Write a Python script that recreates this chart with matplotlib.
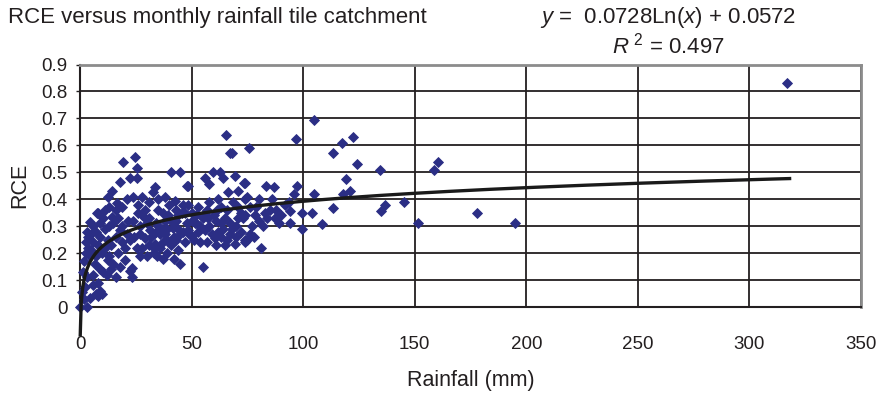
import matplotlib
matplotlib.use("Agg")
import matplotlib.pyplot as plt
import numpy as np

# ---- data ----
rain = [
    317, 195, 178, 160.5, 158.7, 151.6, 145, 136.8, 135, 134.6, 124, 122.5, 121, 119, 118,
    117.5, 113.6, 113.6, 108.6, 105, 105, 97, 97.3, 96,
    93.7, 88, 94, 99.5, 104, 94, 99.5, 83, 84, 87.5, 78.5, 77, 74, 75, 74, 81, 79, 75.8,
    74.8, 80, 83.4, 87, 74,
    76, 78, 82, 85, 90, 92, 86, 80, 76, 89,
    65.5, 67, 68, 48.5, 56, 59.6, 62.8, 58, 64, 69.5, 73.5, 66.4, 70.8, 68.6, 74, 61.4,
    65, 71, 48.4, 53, 57.4, 51.6, 56, 60.5, 65, 69.5, 74, 55, 50, 48.4,
    52, 54, 58, 62, 63, 67, 70, 72, 60, 66, 71, 62, 58, 55, 51, 57, 63, 68, 73, 50,
    24.7, 25.5, 25.5, 40.8, 45, 33.6, 32.7, 35, 42.6, 48, 28, 23.8, 29, 37, 39.5, 45.7,
    23.8, 27, 31.4, 36.8, 41.7, 48, 29, 33.6, 39, 44, 25.5, 30, 34.5, 39, 45, 23.3, 23.3, 22.4,
    26, 31, 34, 38, 43, 46, 42, 36, 32, 27, 28, 36, 41, 47, 44, 30, 35, 40, 26, 31, 46, 38,
    43, 33, 37, 42, 27, 24,
    19.3, 22.4, 18, 14.3, 12.6, 16.6, 21, 7.6, 4.5, 10.3, 14.3, 18, 21.5, 3.6, 3.6, 8,
    12.6, 4.5, 6.7, 12.6, 17, 20, 22.4, 10.3, 5.8, 8, 1, 4.5, 0, 2.2,
    2.5, 3, 5, 6, 9, 11, 13, 15, 17, 19, 6, 9, 11, 14, 16, 19, 21, 2.5, 5, 7, 10, 13, 15,
    18, 20, 8, 11, 13, 16, 19, 7, 9, 12, 14, 16, 6, 9, 7, 3, 2, 3, 1.5, 2, 10, 8,
    29, 34, 38, 44, 49, 53, 59, 64, 70, 31, 37, 43, 52, 57, 61, 67, 72, 35, 41, 47,
    54, 61, 66, 28, 33, 39, 45, 50, 56, 63,
]
rce = [
    0.83, 0.31, 0.35, 0.537, 0.51, 0.31, 0.39, 0.38, 0.355, 0.51, 0.53, 0.63, 0.43, 0.474, 0.42,
    0.61, 0.57, 0.366, 0.307, 0.695, 0.42, 0.625, 0.45, 0.42,
    0.39, 0.36, 0.356, 0.35, 0.35, 0.31, 0.29, 0.35, 0.33, 0.33, 0.34, 0.30, 0.34, 0.25, 0.24, 0.22, 0.37, 0.59,
    0.41, 0.40, 0.45, 0.445, 0.46,
    0.27, 0.26, 0.30, 0.36, 0.34, 0.38, 0.40, 0.32, 0.37, 0.31,
    0.64, 0.57, 0.57, 0.45, 0.48, 0.50, 0.50, 0.455, 0.48, 0.485, 0.46, 0.425, 0.43, 0.39, 0.40, 0.36,
    0.33, 0.33, 0.38, 0.37, 0.33, 0.31, 0.285, 0.255, 0.23, 0.235, 0.25, 0.15, 0.265, 0.285,
    0.34, 0.30, 0.30, 0.28, 0.31, 0.27, 0.30, 0.28, 0.34, 0.36, 0.37, 0.40, 0.39, 0.33, 0.25, 0.24, 0.26, 0.29, 0.33, 0.35,
    0.555, 0.515, 0.48, 0.50, 0.50, 0.445, 0.425, 0.40, 0.395, 0.45, 0.41, 0.41, 0.36, 0.35, 0.34, 0.35,
    0.32, 0.30, 0.285, 0.29, 0.295, 0.31, 0.255, 0.235, 0.25, 0.21, 0.22, 0.19, 0.19, 0.20, 0.16, 0.11, 0.145, 0.25,
    0.35, 0.33, 0.31, 0.32, 0.32, 0.28, 0.26, 0.27, 0.26, 0.27, 0.22, 0.22, 0.23, 0.24, 0.29, 0.31, 0.36, 0.38, 0.38, 0.39, 0.38, 0.41,
    0.36, 0.20, 0.18, 0.18, 0.19, 0.26,
    0.54, 0.48, 0.465, 0.43, 0.41, 0.385, 0.40, 0.35, 0.315, 0.33, 0.335, 0.285, 0.32, 0.26, 0.22, 0.23,
    0.25, 0.19, 0.16, 0.175, 0.20, 0.175, 0.135, 0.13, 0.12, 0.09, 0.055, 0.035, 0.0, 0.075,
    0.24, 0.28, 0.27, 0.30, 0.31, 0.29, 0.30, 0.31, 0.33, 0.30, 0.24, 0.26, 0.22, 0.23, 0.26, 0.24, 0.27, 0.20, 0.21, 0.19, 0.20, 0.19, 0.16,
    0.15, 0.22, 0.35, 0.36, 0.37, 0.36, 0.37, 0.28, 0.14, 0.12, 0.14, 0.11, 0.08, 0.06, 0.05, 0.11, 0.03, 0.0, 0.13, 0.17, 0.05, 0.04,
    0.33, 0.28, 0.27, 0.34, 0.27, 0.28, 0.27, 0.29, 0.26, 0.23, 0.24, 0.25, 0.31, 0.36, 0.32, 0.31, 0.35, 0.30, 0.32, 0.35,
    0.24, 0.23, 0.25, 0.34, 0.22, 0.29, 0.27, 0.32, 0.35, 0.37,
]

fit_a = 0.0728
fit_b = 0.0572
fit_r2 = 0.497
fit_range = (0.11, 318)

x_ticks = [0, 50, 100, 150, 200, 250, 300, 350]
y_ticks = [0, 0.1, 0.2, 0.3, 0.4, 0.5, 0.6, 0.7, 0.8, 0.9]

title = "RCE versus monthly rainfall tile catchment"
xlabel = "Rainfall (mm)"
ylabel = "RCE"

# ---- style ----
plt.rcParams['font.family'] = ['Liberation Sans', 'DejaVu Sans']
plt.rcParams['mathtext.fontset'] = 'custom'
plt.rcParams['mathtext.rm'] = 'Liberation Sans'
plt.rcParams['mathtext.it'] = 'Liberation Sans:italic'

ink = '#231f20'
fig = plt.figure(figsize=(8.83, 3.96), dpi=100)
ax = fig.add_axes([80 / 883, 1 - 307 / 396, (861 - 80) / 883, (307 - 64.5) / 396])

ax.set_xlim(0, 350)
ax.set_ylim(0, 0.9)
ax.set_xticks(x_ticks)
ax.set_yticks(y_ticks)
ax.set_xticklabels([str(v) for v in x_ticks])
ax.set_yticklabels(["0"] + [f"{v:.1f}" for v in y_ticks[1:]])
ax.tick_params(axis='x', length=0, pad=21, labelsize=13.5, colors=ink)
ax.tick_params(axis='y', length=3, width=1, pad=6, labelsize=13.5, colors=ink)
ax.grid(True, color=ink, linewidth=1.3)
ax.set_axisbelow(True)
for s in ['left', 'bottom']:
    ax.spines[s].set_color(ink)
    ax.spines[s].set_linewidth(1.5)
for s in ['top', 'right']:
    ax.spines[s].set_color('#8c8c8c')
    ax.spines[s].set_linewidth(2)

mk = '#2b2e85'
ax.plot(rain, rce, 'D', ms=4.8, mfc=mk, mec=mk, mew=0.6, zorder=3, clip_on=False)

xs = np.linspace(fit_range[0], fit_range[1], 800)
ax.plot(xs, fit_a * np.log(xs) + fit_b, color='#1a1a1a', lw=2.4, zorder=4, clip_on=False)

ax.set_xlabel(xlabel, fontsize=15.5, labelpad=12, color=ink)
ax.set_ylabel(ylabel, fontsize=15.5, labelpad=8, color=ink)

fig.text(8 / 883, 1 - 17 / 396, title, fontsize=16, va='center', ha='left', color=ink)
fig.text(540 / 883, 1 - 17 / 396,
         r"$\it{y}$ =  0.0728Ln$\it{(x)}$ + 0.0572", fontsize=16, va='center', ha='left', color=ink)
fig.text(612 / 883, 1 - 46 / 396,
         r"$\it{R}^{\rm\ 2}$ = 0.497", fontsize=16, va='center', ha='left', color=ink)

fig.savefig("out.png", dpi=100)
